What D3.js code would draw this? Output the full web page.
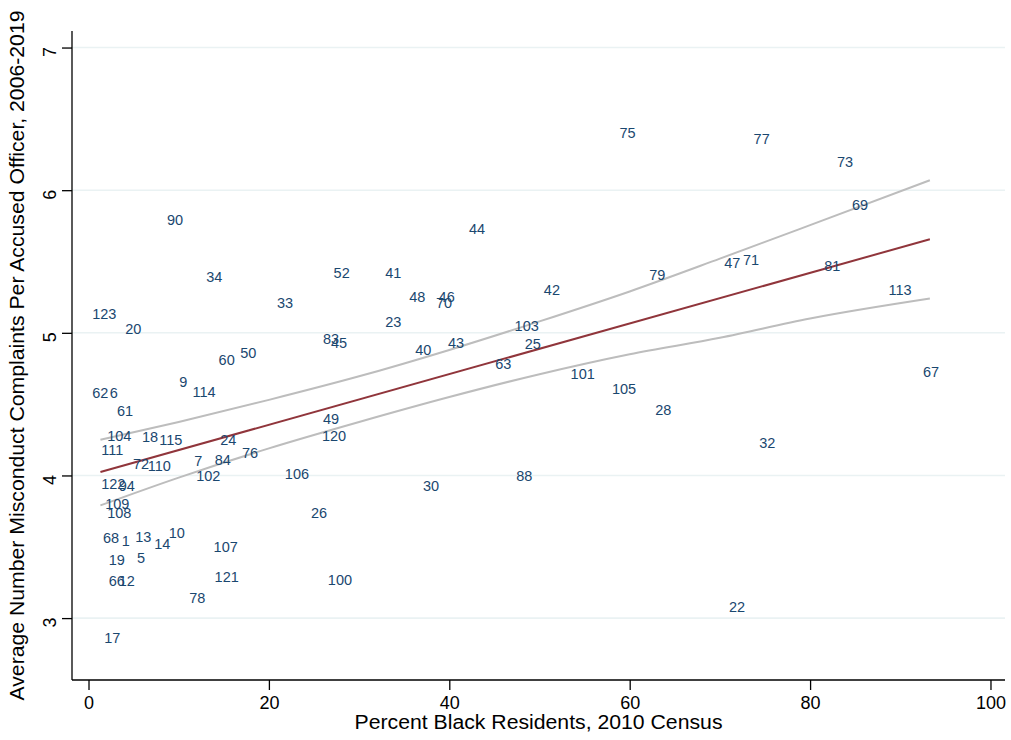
<!DOCTYPE html>
<html>
<head>
<meta charset="utf-8">
<script src="https://cdn.jsdelivr.net/npm/d3@7"></script>
<style>
body { margin:0; background:#fff; }
text { font-family: "Liberation Sans", Arial, Helvetica, sans-serif; }
</style>
</head>
<body>
<div class="Graph"></div>
<script>
// point labels (county ids) with % black and avg complaints
const ids = ["62","6","61","9","114","104","18","115","24","111","76","72","110","7","84","102","122","94","109","108",
  "68","1","13","14","10","107","19","5","66","12","121","78","17","90","34","33","123","20","60","50",
  "52","41","48","46","70","42","23","103","83","45","40","43","25","63","75","77","73","69","44","47",
  "71","79","81","113","101","105","28","32","67","88","49","120","106","30","26","100","22"];
const pctBlack = [1.31,2.80,4.04,10.51,12.81,3.41,6.82,9.12,15.50,2.64,17.91,5.82,7.85,12.17,14.88,13.28,2.75,4.24,3.19,3.41,
  2.50,4.13,6.08,8.18,9.78,15.21,3.13,5.82,3.13,4.24,15.32,12.06,2.64,9.59,13.95,21.78,1.75,4.97,15.32,17.72,
  28.07,33.80,36.45,39.71,39.41,51.38,33.80,48.58,26.88,27.77,37.12,40.75,49.25,45.99,59.77,74.63,83.87,85.53,43.07,71.37,
  73.45,63.06,82.46,89.97,54.79,59.37,63.73,75.26,93.41,48.31,26.88,27.22,23.11,37.97,25.56,27.88,71.90];
const avgComplaints = [4.58,4.58,4.45,4.66,4.59,4.28,4.27,4.25,4.25,4.18,4.16,4.08,4.07,4.10,4.11,4.00,3.94,3.93,3.80,3.74,
  3.56,3.54,3.57,3.52,3.60,3.50,3.41,3.42,3.26,3.26,3.29,3.14,2.86,5.79,5.39,5.21,5.13,5.03,4.81,4.86,
  5.42,5.42,5.25,5.25,5.21,5.30,5.08,5.05,4.96,4.93,4.88,4.93,4.92,4.78,6.40,6.36,6.20,5.90,5.73,5.49,
  5.51,5.41,5.47,5.30,4.71,4.61,4.46,4.23,4.73,4.00,4.40,4.28,4.01,3.93,3.74,3.27,3.08];

// linear fit and confidence band
const fitX = [1.32, 93.28];
const fitY = [4.024, 5.656];
const ciX  = [1.32, 10, 20, 30, 40, 50, 60, 70, 80, 93.28];
const ciHi = [4.25, 4.375, 4.53, 4.695, 4.88, 5.08, 5.29, 5.52, 5.755, 6.07];
const ciLo = [3.79, 3.985, 4.19, 4.375, 4.55, 4.71, 4.85, 4.965, 5.10, 5.24];

const xTicks = [0, 20, 40, 60, 80, 100];
const yTicks = [3, 4, 5, 6, 7];

const W = 1011, H = 740;
const L = 72, R = 1005, T = 31, B = 680;

const svg = d3.select(".Graph").append("svg")
  .attr("width", W).attr("height", H);

const x = d3.scaleLinear().domain([-1.83, 101.61]).range([L, R]);
const y = d3.scaleLinear().domain([2.566, 7.116]).range([B, T]);

// grid
svg.append("g").selectAll("line").data(yTicks).enter().append("line")
  .attr("x1", L).attr("x2", R)
  .attr("y1", d => y(d)).attr("y2", d => y(d))
  .attr("stroke", "#eaf2f3").attr("stroke-width", 1.6);

// CI lines
const line = d3.line().x(d => x(d[0])).y(d => y(d[1])).curve(d3.curveMonotoneX);
svg.append("path").datum(ciX.map((v, i) => [v, ciHi[i]]))
  .attr("d", line).attr("fill", "none").attr("stroke", "#bdbdbd").attr("stroke-width", 2);
svg.append("path").datum(ciX.map((v, i) => [v, ciLo[i]]))
  .attr("d", line).attr("fill", "none").attr("stroke", "#bdbdbd").attr("stroke-width", 2);
// fit line
svg.append("path").datum(fitX.map((v, i) => [v, fitY[i]]))
  .attr("d", line).attr("fill", "none").attr("stroke", "#90353b").attr("stroke-width", 2);

// labels
svg.append("g").selectAll("text").data(ids).enter().append("text")
  .attr("x", (d, i) => x(pctBlack[i]))
  .attr("y", (d, i) => y(avgComplaints[i]))
  .attr("dy", "0.36em")
  .attr("text-anchor", "middle")
  .attr("font-size", 14.5)
  .attr("fill", "#1a476f")
  .text(d => d);

// axes
const yAxis = svg.append("g").attr("transform", "translate(" + L + ",0)")
  .call(d3.axisLeft(y).tickValues(yTicks).tickSize(10).tickPadding(12).tickFormat(d3.format("d")));
const xAxis = svg.append("g").attr("transform", "translate(0," + B + ")")
  .call(d3.axisBottom(x).tickValues(xTicks).tickSize(10).tickPadding(6).tickFormat(d3.format("d")));
[yAxis, xAxis].forEach(g => {
  g.select(".domain").attr("stroke", "#000").attr("stroke-width", 1.3);
  g.selectAll(".tick line").attr("stroke", "#000").attr("stroke-width", 1.3);
  g.selectAll(".tick text").attr("font-size", 18).attr("fill", "#000")
    .style("font-family", "'Liberation Sans', Arial, sans-serif");
});
yAxis.select(".domain").attr("d", "M0," + T + "V" + B);
xAxis.select(".domain").attr("d", "M" + L + ",0H" + R);
yAxis.selectAll(".tick text").attr("transform", function() {
  return "rotate(-90," + d3.select(this).attr("x") + ",0)";
}).attr("text-anchor", "middle").attr("dy", "0.32em").attr("x", -26);

// titles
svg.append("text").attr("x", (L + R) / 2).attr("y", 729)
  .attr("text-anchor", "middle").attr("font-size", 19.5)
  .attr("textLength", 368).attr("lengthAdjust", "spacingAndGlyphs")
  .text("Percent Black Residents, 2010 Census");
svg.append("text").attr("transform", "translate(24," + (T + B) / 2 + ") rotate(-90)")
  .attr("text-anchor", "middle").attr("font-size", 19.5)
  .attr("textLength", 690).attr("lengthAdjust", "spacingAndGlyphs")
  .text("Average Number Misconduct Complaints Per Accused Officer, 2006-2019");
</script>
</body>
</html>
